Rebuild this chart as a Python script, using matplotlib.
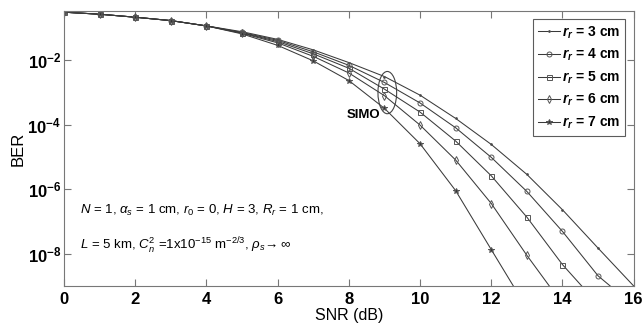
import numpy as np
import matplotlib
matplotlib.use("Agg")
import matplotlib.pyplot as plt
from matplotlib.patches import Ellipse

plt.rcParams["font.family"] = ["Liberation Sans", "DejaVu Sans"]
plt.rcParams["mathtext.fontset"] = "custom"
plt.rcParams["mathtext.rm"] = "Liberation Sans"
plt.rcParams["mathtext.it"] = "Liberation Sans:italic"
plt.rcParams["mathtext.bf"] = "Liberation Sans:bold"
plt.rcParams["mathtext.bfit"] = "Liberation Sans:italic:bold"

# ---- data (markers at integer SNR, last point = where curve leaves axes) ----
common = [3.06e-1, 2.65e-1, 2.14e-1, 1.68e-1, 1.15e-1]
snr = {
    "3": list(range(16)) + [16.0],
    "4": list(range(16)) + [15.34],
    "5": list(range(15)) + [14.54],
    "6": list(range(14)) + [13.63],
    "7": list(range(13)) + [12.62],
}
ber = {
    "3": common + [7.6e-2, 4.4e-2, 2.08e-2, 8.4e-3, 3.1e-3, 8.2e-4, 1.56e-4, 2.44e-5,
                   2.87e-6, 2.3e-7, 1.49e-8, 1e-9],
    "4": common + [7.2e-2, 4.1e-2, 1.81e-2, 6.9e-3, 2.03e-3, 4.7e-4, 8.0e-5, 9.7e-6,
                   8.5e-7, 4.9e-8, 2.06e-9, 1e-9],
    "5": common + [7.0e-2, 3.77e-2, 1.57e-2, 5.6e-3, 1.26e-3, 2.45e-4, 3.1e-5, 2.6e-6,
                   1.36e-7, 4.6e-9, 1e-9],
    "6": common + [6.8e-2, 3.44e-2, 1.31e-2, 4.0e-3, 7.9e-4, 9.7e-5, 8.0e-6, 3.6e-7,
                   8.9e-9, 1e-9],
    "7": common + [6.5e-2, 2.87e-2, 9.5e-3, 2.33e-3, 3.2e-4, 2.56e-5, 9.0e-7, 1.34e-8,
                   1e-9],
}
markers = {"3": ".", "4": "o", "5": "s", "6": "d", "7": "*"}
msizes = {"3": 2.5, "4": 3.6, "5": 3.6, "6": 3.6, "7": 4.2}

fig = plt.figure(figsize=(6.44, 3.31), dpi=100)
ax = fig.add_axes([0.0994, 0.136, 0.8846, 0.831])

for k in ["3", "4", "5", "6", "7"]:
    n = len(snr[k])
    mfc = "#333333" if k in ("3", "7") else "none"
    ax.plot(snr[k], ber[k], color="#3a3a3a", lw=0.75, marker=markers[k],
            ms=msizes[k], mfc=mfc, mec="#555555", mew=0.7,
            markevery=list(range(n - 1)),
            label=r"$\mathbfit{r}_{\mathbfit{r}}$" + f" = {k} cm")

ax.set_yscale("log")
ax.set_xlim(0, 16)
ax.set_ylim(1e-9, 0.335)
ax.minorticks_off()
ax.set_xticks(range(0, 17, 2))
ax.set_xticklabels([str(v) for v in range(0, 17, 2)], fontweight="bold", fontsize=12)
yt = [1e-8, 1e-6, 1e-4, 1e-2]
ax.set_yticks(yt)
ax.set_yticklabels([r"$\mathbf{10^{-%d}}$" % e for e in (8, 6, 4, 2)], fontsize=12)
ax.tick_params(direction="in", top=True, right=True, length=5, color="#777777")
ax.tick_params(axis="y", pad=2)
ax.tick_params(axis="x", pad=4)
for s in ax.spines.values():
    s.set_color("#777777")

ax.set_xlabel("SNR (dB)", fontsize=11.5, labelpad=1)
ax.set_ylabel("BER", fontsize=12, labelpad=1)

leg = ax.legend(loc="upper right", prop={"weight": "bold", "size": 10},
                frameon=True, fancybox=False, edgecolor="#333333", handlelength=1.6,
                handletextpad=0.15, labelspacing=0.45, borderaxespad=0.6, borderpad=0.35)
leg.get_frame().set_linewidth(0.8)

# SIMO ellipse around the 9 dB markers
to_axes = ax.transData + ax.transAxes.inverted()
cx, cy = to_axes.transform((9.08, 10 ** -3.006))
ax.add_patch(Ellipse((cx, cy), 0.525 / 16, 1.31 / 8.526, transform=ax.transAxes,
                     fill=False, ec="#444444", lw=0.8))
ax.text(8.4, 10 ** -3.7, "SIMO", fontsize=9.5, fontweight="bold", ha="center", va="center")

ax.text(0.45, 10 ** -6.65,
        r"$N$ = 1, $\alpha_s$ = 1 cm, $r_0$ = 0, $H$ = 3, $R_r$ = 1 cm,",
        fontsize=9.5, va="center")
ax.text(0.45, 10 ** -7.75,
        r"$L$ = 5 km, $C_n^2$ =1x10$^{-15}$ m$^{-2/3}$, $\rho_s\!\rightarrow \infty$",
        fontsize=9.5, va="center")

fig.savefig("out.png", dpi=100)
